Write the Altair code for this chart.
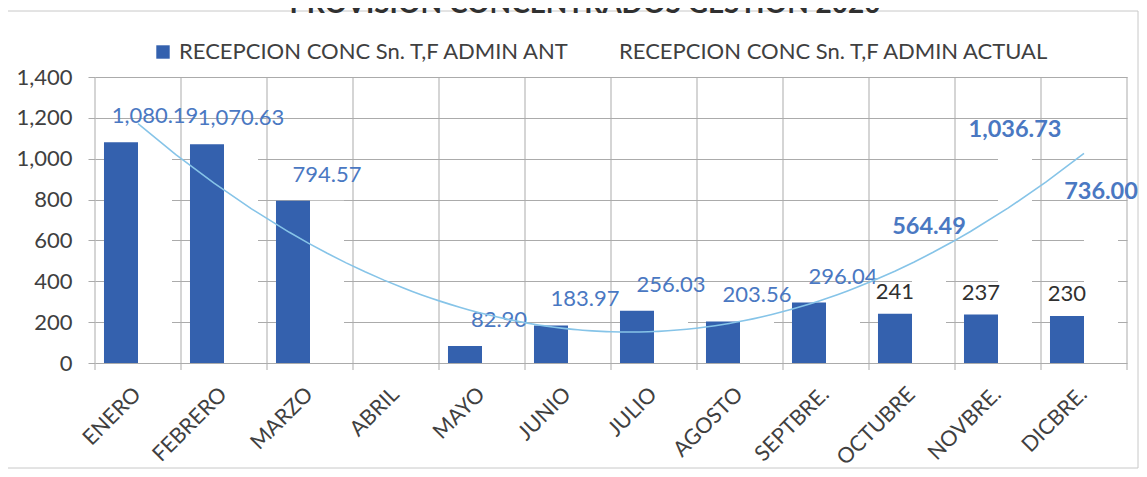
import altair as alt
import pandas as pd

months = ["ENERO", "FEBRERO", "MARZO", "ABRIL", "MAYO", "JUNIO", "JULIO",
          "AGOSTO", "SEPTBRE.", "OCTUBRE", "NOVBRE.", "DICBRE."]
ant = [1080.19, 1070.63, 794.57, 0, 82.90, 183.97, 256.03, 203.56, 296.04, 241, 237, 230]
actual = [1080.19, 1070.63, 794.57, 0, 82.90, 183.97, 256.03, 203.56, 296.04, 564.49, 1036.73, 736.00]
s_ant = "RECEPCION CONC Sn. T,F ADMIN ANT"
s_act = "RECEPCION CONC Sn. T,F ADMIN ACTUAL"
y_ticks = [0, 200, 400, 600, 800, 1000, 1200, 1400]

rows = []
for i, m in enumerate(months):
    rows.append({"month": m, "idx": i + 1, "series": s_ant, "value": ant[i]})
    rows.append({"month": m, "idx": i + 1, "series": s_act, "value": actual[i]})
df = pd.DataFrame(rows)
bounds = pd.DataFrame({"b": [i + 0.5 for i in range(len(months) + 1)]})

W, H = 1032, 286
FONT = "Lato"
GRID = "#ABABAB"
BLUE = "#3461AE"
LBLUE = "#4A78C2"

xscale = alt.Scale(domain=months, paddingInner=0.209, paddingOuter=0.1045)
xoff = alt.XOffset("series:N",
                   scale=alt.Scale(domain=[s_ant, s_act], paddingInner=0, paddingOuter=0))
yq = alt.Y("value:Q", scale=alt.Scale(domain=[0, 1400]))

base = alt.Chart(df)

vrules = alt.Chart(bounds).mark_rule(color=GRID, strokeWidth=1).encode(
    x=alt.X("b:Q", scale=alt.Scale(domain=[0.5, 12.5]), axis=None),
    y=alt.value(0), y2=alt.value(H + 7))

bars = base.mark_bar().encode(
    x=alt.X("month:N", scale=xscale,
            axis=alt.Axis(title=None, labelAngle=-45, labelAlign="right",
                          labelBaseline="middle", labelFontSize=21.5,
                          labelFont=FONT, labelColor="#404040",
                          labelPadding=28, domain=False, ticks=False, grid=False)),
    xOffset=xoff,
    y=alt.Y("value:Q", scale=alt.Scale(domain=[0, 1400]),
            axis=alt.Axis(title=None, values=y_ticks, format=",d",
                          labelFontSize=22, labelFont=FONT, labelColor="#404040",
                          labelPadding=16, tickSize=7, tickColor=GRID,
                          gridColor=GRID, domain=False)),
    color=alt.Color("series:N",
                    scale=alt.Scale(domain=[s_ant, s_act], range=[BLUE, "#FFFFFF"]),
                    legend=alt.Legend(title=None, orient="none", legendX=57, legendY=-36,
                                      direction="horizontal", symbolType="square",
                                      symbolSize=180, symbolStrokeWidth=0,
                                      labelFontSize=22, labelFont=FONT, labelLimit=0,
                                      labelColor="#404040", columnPadding=21,
                                      labelOffset=5)))

xband_na = alt.X("month:N", scale=xscale, axis=None)

lab_act = base.transform_filter(
    (alt.datum.series == s_act) & (alt.datum.value > 0) & (alt.datum.idx <= 9)
).mark_text(fontSize=22, font=FONT, color=LBLUE, baseline="middle", dy=-26).encode(
    x=xband_na, xOffset=xoff, y=yq, text=alt.Text("value:Q", format=",.2f"))

lab_act_b = base.transform_filter(
    (alt.datum.series == s_act) & (alt.datum.idx >= 10)
).mark_text(fontSize=23.5, font=FONT, fontWeight="bold", color=LBLUE,
            baseline="middle", dy=-21).encode(
    x=xband_na, xOffset=xoff, y=yq, text=alt.Text("value:Q", format=",.2f"))

lab_ant = base.transform_filter(
    (alt.datum.series == s_ant) & (alt.datum.idx >= 10)
).mark_text(fontSize=22, font=FONT, color="#303030", baseline="middle", dy=-22).encode(
    x=xband_na, xOffset=xoff, y=yq, text=alt.Text("value:Q", format=",.0f"))

trend = base.transform_filter(alt.datum.series == s_act).transform_regression(
    "idx", "value", method="poly", order=2
).mark_line(color="#86C4E8", strokeWidth=1.6).encode(
    x=alt.X("idx:Q", scale=alt.Scale(domain=[0.5, 12.5]), axis=None),
    y=yq)

frame = alt.Chart(pd.DataFrame({"a": [0]})).mark_rect(
    fill=None, stroke="#C8C8C8", strokeWidth=1).encode(
    x=alt.value(-88), x2=alt.value(1043), y=alt.value(-66), y2=alt.value(391))

chart = alt.layer(frame, vrules, bars, lab_act, lab_act_b, lab_ant, trend).resolve_scale(
    x="independent"
).properties(
    width=W, height=H,
    title=alt.TitleParams("PROVISION CONCENTRADOS GESTION 2020", fontSize=28,
                          fontWeight="bold", font=FONT, color="#303030",
                          anchor="middle", offset=20, dy=28, dx=-26),
    autosize=alt.AutoSizeParams(type="none"),
    padding={"left": 87, "top": 69, "right": 12, "bottom": 106},
).configure_view(stroke=None)

chart.save("out.html", embed_options={"renderer": "svg", "actions": False})
